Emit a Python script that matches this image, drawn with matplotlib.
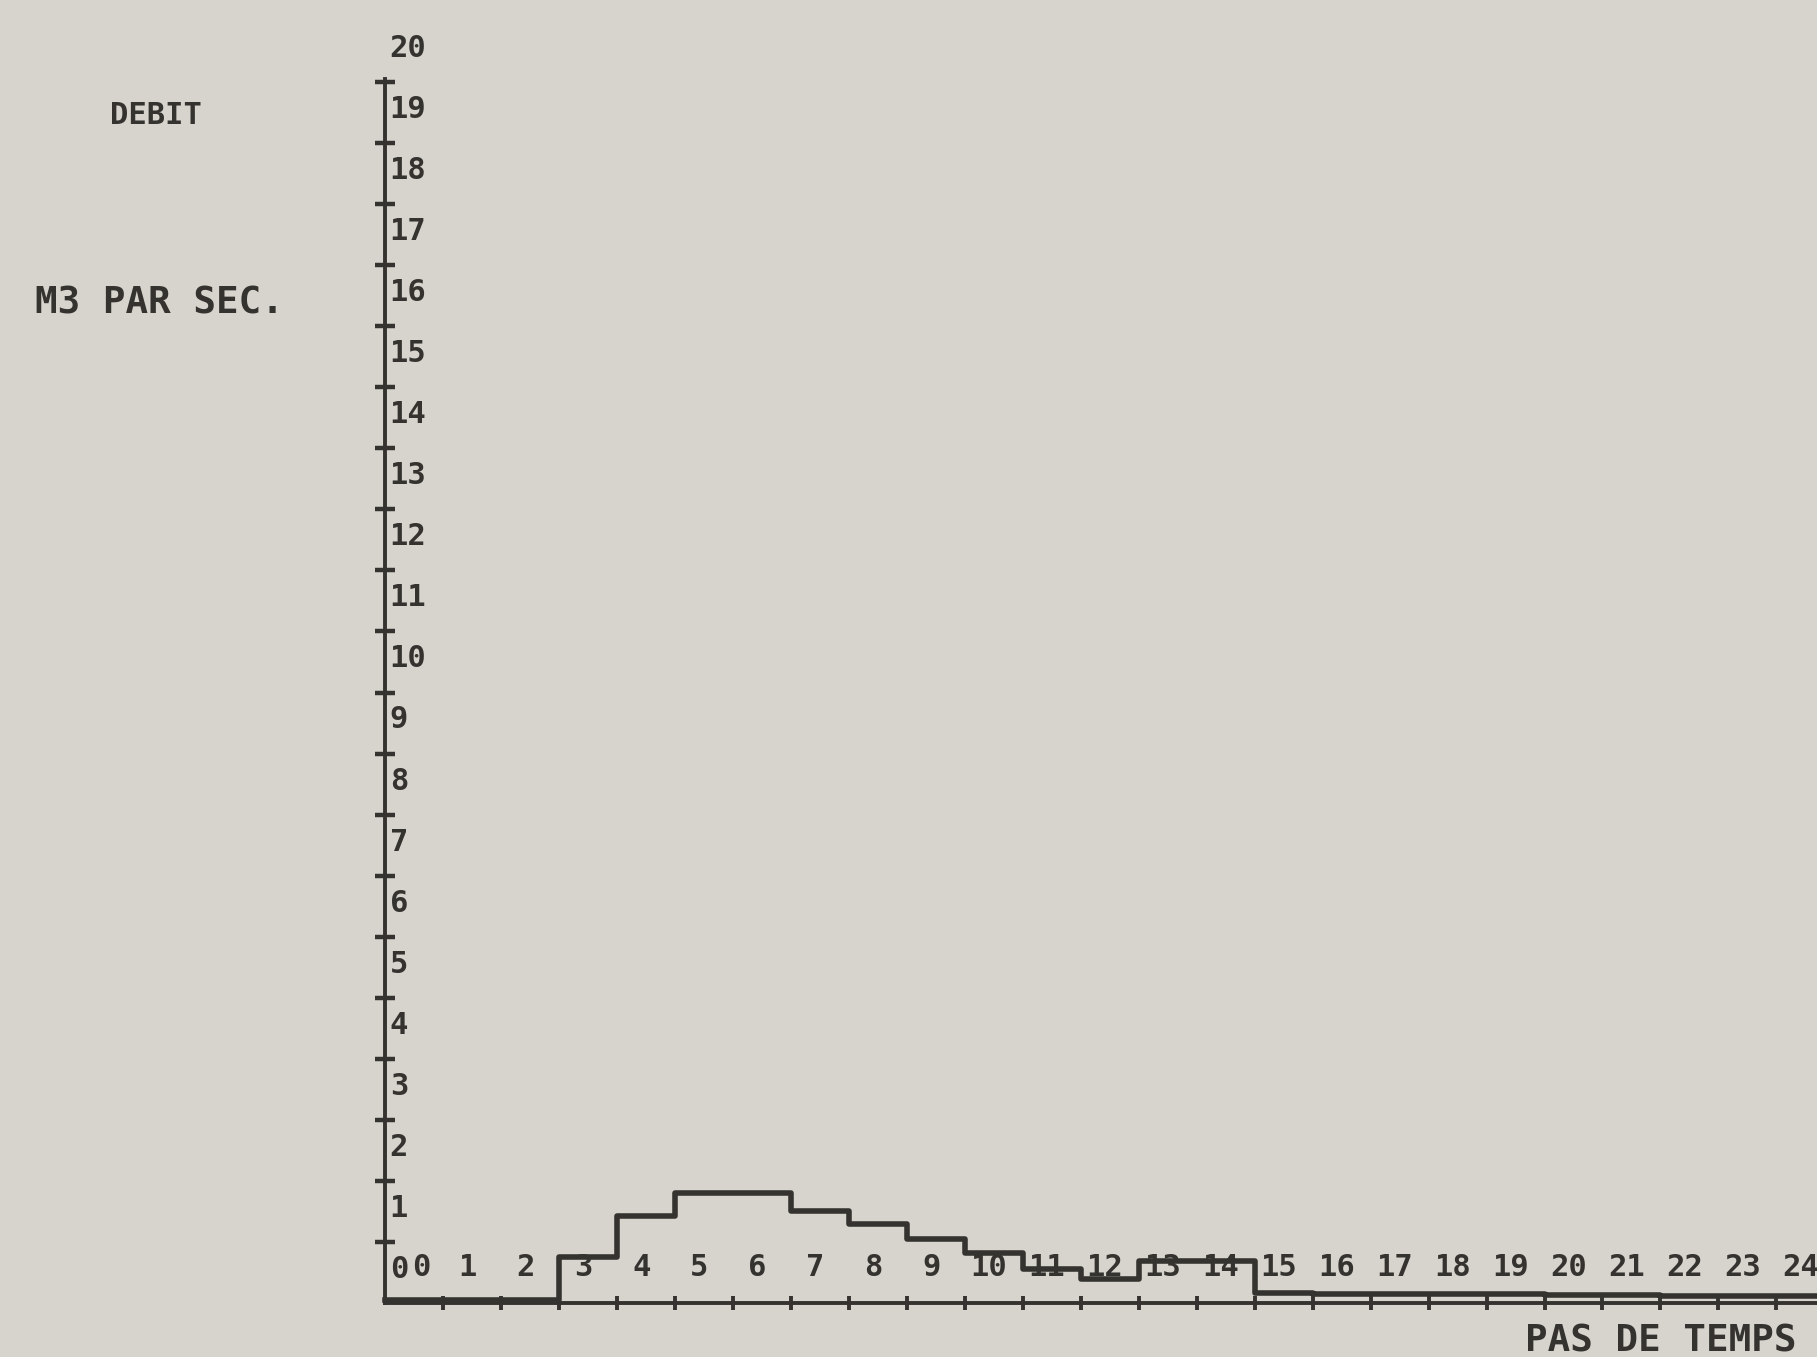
import numpy as np
import matplotlib
matplotlib.use("Agg")
import matplotlib.pyplot as plt

# hydrogramme : debit (m3/s) par pas de temps
pas = list(range(25))
debit = [0.05, 0.05, 0.05, 0.75, 1.43, 1.8, 1.8, 1.5, 1.3, 1.05,
         0.82, 0.55, 0.4, 0.68, 0.68, 0.16, 0.15, 0.15, 0.14, 0.14,
         0.13, 0.13, 0.12, 0.12, 0.12]
y_ticks = list(range(21))

ink = "#34332f"
paper = "#d6d4cc"
mono = "DejaVu Sans Mono"

W, H = 1817, 1357
fig = plt.figure(figsize=(W / 100, H / 100), dpi=100, facecolor=paper)

# axes placed in pixels: y axis at x=385, baseline at y=1303, top at y=79
x0, base, top = 385, 1303, 79
ax = fig.add_axes([x0 / W, (H - base) / H, 1 - x0 / W, (base - top) / H])
ax.set_facecolor(paper)
ax.set_xlim(0, 24.7)
ax.set_ylim(0, 20.05)

for s in ["top", "right"]:
    ax.spines[s].set_visible(False)
for s in ["left", "bottom"]:
    ax.spines[s].set_color(ink)
    ax.spines[s].set_linewidth(2.8)

ax.set_yticks(y_ticks[1:])
ax.set_xticks(pas[1:])
ax.tick_params(axis="y", direction="inout", length=14, width=3.2, color=ink,
               labelleft=False)
ax.tick_params(axis="x", direction="inout", length=10, width=2.8, color=ink,
               labelbottom=False)

# step line
xs = np.append(pas, len(pas))
ys = np.append(debit, debit[-1])
ax.step(xs, ys, where="post", color=ink, lw=4, clip_on=False)

# tick labels as on the printout: written just above each tick
for k in y_ticks:
    ax.text(0.08, k + 0.55, str(k), ha="left", va="center", fontsize=22,
            family=mono, weight="bold", color=ink, clip_on=False)
for k in pas:
    xk = k + 0.42 if k else 0.62
    ax.text(xk, 0.58, str(k), ha="center", va="center", fontsize=22,
            family=mono, weight="bold", color=ink, clip_on=False)

fig.text(110 / W, 1 - 116 / H, "DEBIT", ha="left", va="center",
         fontsize=22, family=mono, weight="bold", color=ink)
fig.text(35 / W, 1 - 303 / H, "M3 PAR SEC.", ha="left", va="center",
         fontsize=27, family=mono, weight="bold", color=ink)
fig.text(1796 / W, 1 - 1341 / H, "PAS DE TEMPS", ha="right", va="center",
         fontsize=27, family=mono, weight="bold", color=ink)

fig.savefig("out.png", dpi=100, facecolor=paper)
